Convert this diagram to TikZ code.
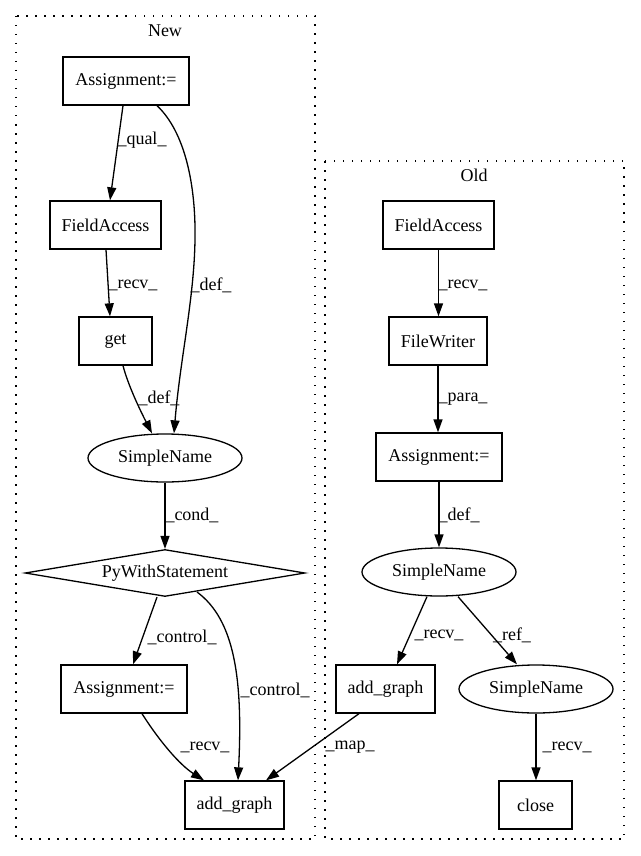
\documentclass[tikz,border=0pt]{standalone}
\usepackage{fontspec}
\setmainfont{Liberation Serif}
\usetikzlibrary{shapes.geometric,arrows.meta}
\begin{document}
\begin{tikzpicture}[x=1pt,y=-1pt,
  every node/.style={font=\fontsize{18}{21}\selectfont},
  box/.style={draw,line width=1.3pt,rectangle,inner sep=0pt,minimum height=48pt},
  ell/.style={draw,line width=1.3pt,ellipse,inner sep=0pt,minimum width=154pt,minimum height=48pt},
  dia/.style={draw,line width=1.3pt,diamond,aspect=6,inner sep=0pt,minimum width=280pt,minimum height=47pt},
  clus/.style={draw,line width=1.3pt,dash pattern=on 1.5pt off 7.5pt},
  edge/.style={line width=1.3pt,-{Triangle[length=13pt,width=9pt]}},
  lab/.style={inner sep=0pt,fill=none}]
\useasboundingbox (0,0) rectangle (640,856);
% clusters
\draw[clus] (16,16) rectangle (315,839);
\draw[clus] (325,161) rectangle (624,839);
\node[lab] (tnew) at (165,31) {New};
\node[lab] (told) at (474,175) {Old};
% New nodes
\node[box,minimum width=126pt] (na1) at (126,81) {Assignment:=};
\node[box,minimum width=111pt] (nfa) at (105.5,225) {FieldAccess};
\node[box,minimum width=73pt] (nget) at (115.5,341) {get};
\node[ell] (nsn) at (165,458) {SimpleName};
\node[dia] (npw) at (165,573) {PyWithStatement};
\node[box,minimum width=126pt] (na2) at (124,689) {Assignment:=};
\node[box,minimum width=99pt] (nag) at (234.5,805) {add\_graph};
% Old nodes
\node[box,minimum width=111pt] (ofa) at (438.5,225) {FieldAccess};
\node[box,minimum width=98pt] (ofw) at (438,341) {FileWriter};
\node[box,minimum width=126pt] (oa) at (439,457) {Assignment:=};
\node[ell] (osn) at (439,572) {SimpleName};
\node[box,minimum width=99pt] (oag) at (385.5,689) {add\_graph};
\node[ell] (osn2) at (536,689) {SimpleName};
\node[box,minimum width=73pt] (ocl) at (535.5,805) {close};
% New edges
\draw[edge] ([xshift=-3pt]na1.south) -- ([xshift=4.5pt]nfa.north);
\node[lab] (l1) at (142,140) {\_qual\_};
\draw[edge] ([xshift=31pt]na1.south) .. controls (185,132) and (196,185) .. (195,240)
  .. controls (194,300) and (180,360) .. ([xshift=9pt]nsn.north);
\node[lab] (l2) at (211,285) {\_def\_};
\draw[edge] ([xshift=0.5pt]nfa.south) -- ([xshift=-5.5pt]nget.north);
\node[lab] (l3) at (133,285) {\_recv\_};
\draw[edge] ([xshift=7.5pt]nget.south) .. controls (128,385) and (140,410) .. ([xshift=-13pt]nsn.north);
\node[lab] (l4) at (159,398) {\_def\_};
\draw[edge] (nsn.south) -- (npw.north);
\node[lab] (l5) at (192,515) {\_cond\_};
\draw[edge] ([xshift=-8pt]npw.south) -- ([xshift=9pt]na2.north);
\node[lab] (l6) at (182,637) {\_control\_};
\draw[edge] (197,592) .. controls (235,620) and (243,680) .. ([xshift=3.5pt]nag.north);
\node[lab] (l7) at (275,690) {\_control\_};
\draw[edge] ([xshift=18pt]na2.south) .. controls (160,742) and (180,765) .. ([xshift=-30.5pt]nag.north);
\node[lab] (l8) at (205,747) {\_recv\_};
\draw[edge] ([xshift=-26.5pt]oag.south) -- ([xshift=31.5pt]nag.north);
\node[lab] (l9) at (350,747) {\_map\_};
% Old edges
\draw[edge] (ofa.south) -- ([xshift=0.5pt]ofw.north);
\node[lab] (l10) at (463,285) {\_recv\_};
\draw[edge] (ofw.south) -- ([xshift=-1pt]oa.north);
\node[lab] (l11) at (463,399) {\_para\_};
\draw[edge] (oa.south) -- (osn.north);
\node[lab] (l12) at (459,515) {\_def\_};
\draw[edge] ([xshift=-12pt]osn.south) -- ([xshift=11.5pt]oag.north);
\node[lab] (l13) at (439,635) {\_recv\_};
\draw[edge] ([xshift=19pt]osn.south) -- ([xshift=-19pt]osn2.north);
\node[lab] (l14) at (512,635) {\_ref\_};
\draw[edge] (osn2.south) -- ([xshift=0.5pt]ocl.north);
\node[lab] (l15) at (567,747) {\_recv\_};
\end{tikzpicture}
\end{document}
